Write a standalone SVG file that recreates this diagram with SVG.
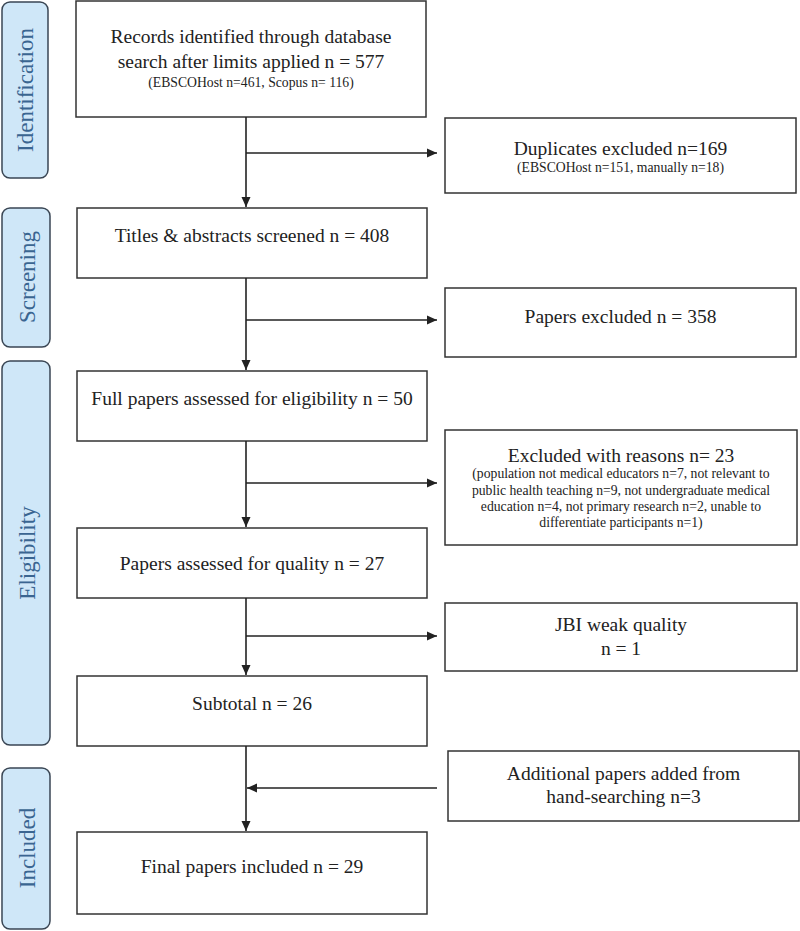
<svg xmlns="http://www.w3.org/2000/svg" width="800" height="931" viewBox="0 0 800 931">
<style>
.box{fill:#fff;stroke:#333;stroke-width:1.5}
.tab{fill:#cfe7f8;stroke:#3a4654;stroke-width:1.5}
.t{font-family:"Liberation Serif","Times New Roman",serif;fill:#222;text-anchor:middle}
.m{font-size:19.5px}
.s{font-size:13.7px}
.side{font-family:"Liberation Serif","Times New Roman",serif;font-size:23px;fill:#3a6591;text-anchor:middle}
.c{stroke:#222;stroke-width:1.6;fill:none}
</style>
<defs>
<marker id="ah" viewBox="0 0 10 10" refX="10" refY="5" markerWidth="10" markerHeight="10" markerUnits="userSpaceOnUse" orient="auto">
<path d="M0,0.5 L10,5 L0,9.5 Z" fill="#222"/>
</marker>
</defs>
<rect width="800" height="931" fill="#fff"/>

<g id="tab-identification">
<rect class="tab" x="2" y="2" width="46" height="176" rx="8"/>
<text class="side" transform="translate(33,90) rotate(-90)">Identification</text>
</g>
<g id="tab-screening">
<rect class="tab" x="2" y="208" width="48" height="139" rx="8"/>
<text class="side" transform="translate(35,277) rotate(-90)">Screening</text>
</g>
<g id="tab-eligibility">
<rect class="tab" x="2" y="361" width="48" height="384" rx="8"/>
<text class="side" transform="translate(35,553) rotate(-90)">Eligibility</text>
</g>
<g id="tab-included">
<rect class="tab" x="2" y="768" width="48" height="161" rx="8"/>
<text class="side" transform="translate(35,848) rotate(-90)">Included</text>
</g>

<g id="records">
<rect class="box" x="76" y="1" width="350" height="116"/>
<text class="t m" x="251" y="43">Records identified through database</text>
<text class="t m" x="251" y="68">search after limits applied n = 577</text>
<text class="t s" x="251" y="87">(EBSCOHost n=461, Scopus n= 116)</text>
</g>
<g id="duplicates">
<rect class="box" x="445" y="118" width="351" height="75"/>
<text class="t m" x="620.5" y="155">Duplicates excluded n=169</text>
<text class="t s" x="620.5" y="172">(EBSCOHost n=151, manually n=18)</text>
</g>
<g id="titles">
<rect class="box" x="77" y="208" width="350" height="70"/>
<text class="t m" x="252" y="242">Titles &amp; abstracts screened n = 408</text>
</g>
<g id="papers-excluded">
<rect class="box" x="445" y="288" width="351" height="69"/>
<text class="t m" x="620.5" y="323">Papers excluded n = 358</text>
</g>
<g id="full-papers">
<rect class="box" x="77" y="371" width="350" height="70"/>
<text class="t m" x="252" y="405">Full papers assessed for eligibility n = 50</text>
</g>
<g id="excluded-reasons">
<rect class="box" x="445" y="430" width="352" height="115"/>
<text class="t m" x="621" y="462">Excluded with reasons n= 23</text>
<text class="t s" x="621" y="478">(population not medical educators n=7, not relevant to</text>
<text class="t s" x="621" y="495">public health teaching n=9, not undergraduate medical</text>
<text class="t s" x="621" y="511">education n=4, not primary research n=2, unable to</text>
<text class="t s" x="621" y="527">differentiate participants n=1)</text>
</g>
<g id="quality">
<rect class="box" x="77" y="528" width="350" height="70"/>
<text class="t m" x="252" y="570">Papers assessed for quality n = 27</text>
</g>
<g id="jbi">
<rect class="box" x="445" y="603" width="352" height="68"/>
<text class="t m" x="621" y="631">JBI weak quality</text>
<text class="t m" x="621" y="655">n = 1</text>
</g>
<g id="subtotal">
<rect class="box" x="77" y="676" width="350" height="70"/>
<text class="t m" x="252" y="710">Subtotal n = 26</text>
</g>
<g id="additional">
<rect class="box" x="448" y="751" width="351" height="70"/>
<text class="t m" x="623.5" y="780">Additional papers added from</text>
<text class="t m" x="623.5" y="803">hand-searching n=3</text>
</g>
<g id="final">
<rect class="box" x="77" y="832" width="350" height="82"/>
<text class="t m" x="252" y="873">Final papers included n = 29</text>
</g>

<g id="connectors">
<line class="c" x1="246" y1="117" x2="246" y2="207" marker-end="url(#ah)"/>
<line class="c" x1="246" y1="153" x2="437" y2="153" marker-end="url(#ah)"/>
<line class="c" x1="246" y1="278" x2="246" y2="370" marker-end="url(#ah)"/>
<line class="c" x1="246" y1="320" x2="437" y2="320" marker-end="url(#ah)"/>
<line class="c" x1="246" y1="441" x2="246" y2="527" marker-end="url(#ah)"/>
<line class="c" x1="246" y1="483" x2="437" y2="483" marker-end="url(#ah)"/>
<line class="c" x1="246" y1="598" x2="246" y2="675" marker-end="url(#ah)"/>
<line class="c" x1="246" y1="636" x2="437" y2="636" marker-end="url(#ah)"/>
<line class="c" x1="246" y1="746" x2="246" y2="831" marker-end="url(#ah)"/>
<line class="c" x1="437" y1="788" x2="247" y2="788" marker-end="url(#ah)"/>
</g>
</svg>
